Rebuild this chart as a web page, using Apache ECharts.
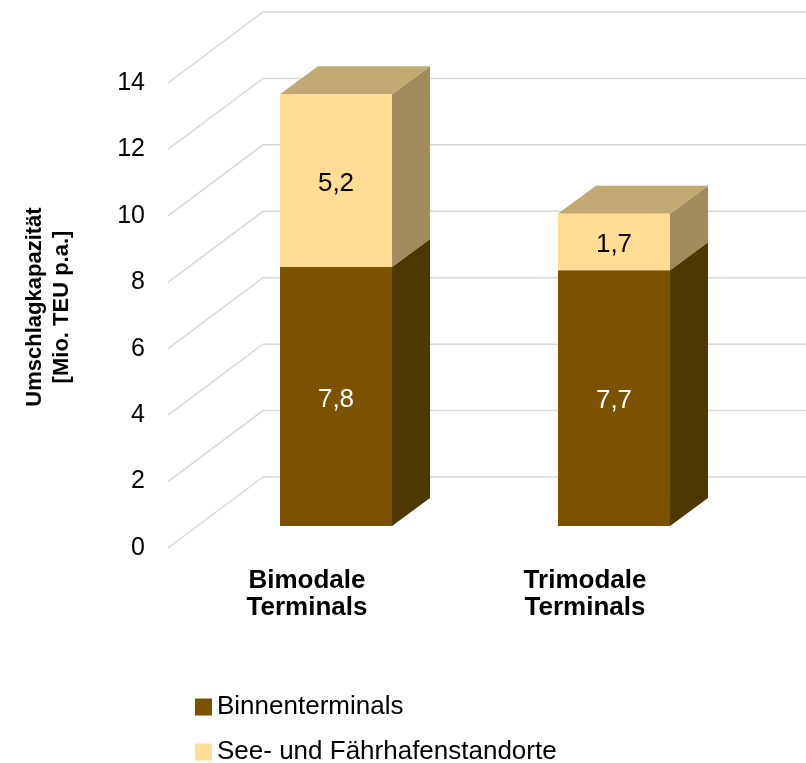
<!DOCTYPE html>
<html>
<head>
<meta charset="utf-8">
<script src="https://cdn.jsdelivr.net/npm/echarts@6/dist/echarts.min.js"></script>
<style>
html,body{margin:0;padding:0;background:#fff;}
#chart{width:806px;height:763px;}
</style>
</head>
<body>
<div id="chart"></div>
<script>
// ---- data ----
const categories = ['Bimodale\nTerminals', 'Trimodale\nTerminals'];
const binnenterminals = [7.8, 7.7];
const seeFaehrhafen = [5.2, 1.7];
const yTicks = [0, 2, 4, 6, 8, 10, 12, 14];
const seriesNames = ['Binnenterminals', 'See- und Fährhafenstandorte'];

// ---- style ----
const FONT = 'Liberation Sans, Arial, sans-serif';
const DEPTH = [95, -71];      // full wall depth vector
const FRONT = [29, -22];      // bar front-plane offset
const BARD = [38, -28];       // bar depth vector
const BAR_FRAC = 0.403;

const colBrown = { front: '#7b5200', side: '#4f3700', top: '#a07a3a' };
const colYellow = { front: '#ffdd94', side: '#a38b5e', top: '#c2a872' };

function fmt(v) { return String(v).replace('.', ','); }

function boxRenderer(colors, labelColor) {
  return function (params, api) {
    const i = api.value(0), b = api.value(1), t = api.value(2), v = api.value(3);
    const bw = api.size([1, 0])[0] * BAR_FRAC;
    const pb = api.coord([i, b]);
    const pt = api.coord([i, t]);
    const xl = pb[0] - bw / 2 + FRONT[0], xr = pb[0] + bw / 2 + FRONT[0];
    const yb = pb[1] + FRONT[1], yt = pt[1] + FRONT[1];
    const dx = BARD[0], dy = BARD[1];
    return {
      type: 'group',
      children: [
        { type: 'polygon', shape: { points: [[xr, yt], [xr + dx, yt + dy], [xr + dx, yb + dy], [xr, yb]] },
          style: { fill: colors.side } },
        { type: 'polygon', shape: { points: [[xl, yt], [xl + dx, yt + dy], [xr + dx, yt + dy], [xr, yt]] },
          style: { fill: colors.top } },
        { type: 'rect', shape: { x: xl, y: yt, width: xr - xl, height: yb - yt },
          style: { fill: colors.front } },
        { type: 'text', x: (xl + xr) / 2, y: (yt + yb) / 2 + 3,
          style: { text: fmt(v), fill: labelColor, font: '26px ' + FONT, align: 'center', verticalAlign: 'middle' } }
      ]
    };
  };
}

function legendFor(name, top) {
  return {
    orient: 'vertical',
    left: 190, top: top,
    itemWidth: 17, itemHeight: 17,
    icon: 'rect',
    textStyle: { fontFamily: FONT, fontSize: 26, color: '#000', lineHeight: 26 },
    data: [name]
  };
}

const chart = echarts.init(document.getElementById('chart'), null, { renderer: 'canvas' });
chart.setOption({
  animation: false,
  backgroundColor: '#ffffff',
  grid: { left: 168, right: 82, top: 83, bottom: 215, containLabel: false },
  xAxis: {
    type: 'category',
    data: categories,
    axisLine: { show: false },
    axisTick: { show: false },
    splitLine: { show: false },
    axisLabel: { margin: 19, color: '#000', fontFamily: FONT, fontSize: 26, fontWeight: 'bold', lineHeight: 27 }
  },
  yAxis: {
    type: 'value',
    min: 0, max: 14, interval: 2,
    axisLine: { show: false },
    axisTick: { show: false },
    splitLine: { show: false },
    axisLabel: { margin: 23, color: '#000', fontFamily: FONT, fontSize: 25 }
  },
  legend: [legendFor(seriesNames[0], 689), legendFor(seriesNames[1], 734)],
  graphic: [{
    type: 'text',
    x: 48, y: 307,
    rotation: Math.PI / 2,
    style: {
      text: 'Umschlagkapazität\n[Mio. TEU p.a.]',
      font: 'bold 22px ' + FONT,
      fill: '#000',
      align: 'center',
      verticalAlign: 'middle',
      lineHeight: 27
    }
  }],
  series: [
    {
      type: 'custom',
      name: 'grid3d',
      silent: true,
      clip: false,
      z: 1,
      data: yTicks.map(v => [0, v]),
      encode: { x: 0, y: 1 },
      renderItem: function (params, api) {
        const p = api.coord([0, api.value(1)]);
        const x0 = params.coordSys.x;
        return {
          type: 'polyline',
          shape: { points: [[x0, p[1]], [x0 + DEPTH[0], p[1] + DEPTH[1]], [api.getWidth(), p[1] + DEPTH[1]]] },
          style: { stroke: '#d9d9d9', lineWidth: 1.5, fill: null }
        };
      }
    },
    {
      type: 'custom',
      name: seriesNames[0],
      clip: false,
      z: 2,
      itemStyle: { color: colBrown.front },
      data: binnenterminals.map((v, i) => [i, 0, v, v]),
      encode: { x: 0, y: [1, 2] },
      renderItem: boxRenderer(colBrown, '#ffffff')
    },
    {
      type: 'custom',
      name: seriesNames[1],
      clip: false,
      z: 3,
      itemStyle: { color: colYellow.front },
      data: seeFaehrhafen.map((v, i) => [i, binnenterminals[i], binnenterminals[i] + v, v]),
      encode: { x: 0, y: [1, 2] },
      renderItem: boxRenderer(colYellow, '#000000')
    }
  ]
});
</script>
</body>
</html>
